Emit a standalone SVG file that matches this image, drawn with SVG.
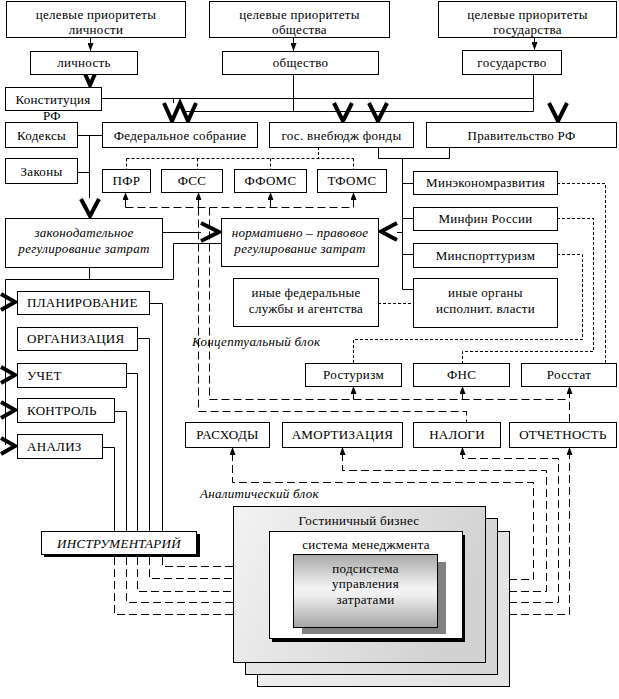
<svg xmlns="http://www.w3.org/2000/svg" width="619" height="699" viewBox="0 0 619 699">
<style>
.b{fill:#fff;stroke:#000;stroke-width:1}
.t{font-family:"Liberation Serif","Tinos","DejaVu Serif",serif;font-size:13px;letter-spacing:0.3px;fill:#000;text-anchor:middle}
.s{text-anchor:start}
.i{font-style:italic}
.ln{fill:none;stroke:#000;stroke-width:1}
.dl{stroke-dasharray:8 4}
.ds{stroke-dasharray:3 2}
.ch{fill:none;stroke:#000;stroke-width:4;stroke-linejoin:miter;stroke-linecap:butt}
</style>
<defs>
<marker id="ah" viewBox="0 0 8 6" refX="8" refY="3" markerWidth="8" markerHeight="6" markerUnits="userSpaceOnUse" orient="auto"><path d="M0,0 L8,3 L0,6 z" fill="#000"/></marker>
<linearGradient id="gF" x1="0" y1="0" x2="1" y2="0.3"><stop offset="0" stop-color="#f3f3f3"/><stop offset="1" stop-color="#d2d2d2"/></linearGradient>
<linearGradient id="gS" x1="0" y1="0" x2="1" y2="0"><stop offset="0" stop-color="#e6e6e6"/><stop offset="1" stop-color="#d4d4d4"/></linearGradient>
<linearGradient id="gT" x1="0" y1="0" x2="1" y2="0"><stop offset="0" stop-color="#eeeeee"/><stop offset="1" stop-color="#e2e2e2"/></linearGradient>
<linearGradient id="gP" x1="0" y1="0" x2="0" y2="1"><stop offset="0" stop-color="#a8a8a8"/><stop offset="0.45" stop-color="#f2f2f2"/><stop offset="0.55" stop-color="#f0f0f0"/><stop offset="1" stop-color="#a4a4a4"/></linearGradient>
</defs>
<rect width="619" height="699" fill="#fff"/>

<g id="connectors">
<g class="ln">
<path d="M90.5,37 V51" marker-end="url(#ah)"/>
<path d="M293.5,37 V51" marker-end="url(#ah)"/>
<path d="M534.5,37 V50" marker-end="url(#ah)"/>
<path d="M101,98.5 H533.5"/>
<path d="M293.5,74 V111.5 M533.5,74 V111.5 M186,111.5 H533.5"/>
<path d="M173.5,98.5 V103"/>
<path d="M77,135.5 H102 M89.5,135.5 V198 M77,172.5 H89.5"/>
<path d="M378.5,147 V158.5 H449.5 V147 M402.5,158.5 V289.5 M402.5,183.5 H413 M402.5,218.5 H413 M402.5,254.5 H413 M402.5,289.5 H413 M397,232.5 H402.5"/>
<path d="M162,232.5 H201"/>
<path d="M89.5,267 V279.5 M5.5,279.5 H173.5 V243.5 H221"/>
<path d="M5.5,279.5 V445"/>
<path d="M149,303.5 H162.5 V531 M137,338.5 H149.5 V531 M126,373.5 H137.5 V531 M114,411.5 H126.5 V531 M102,447.5 H114.5 V531"/>
</g>
<g class="ln ds">
<path d="M318.5,147 V158.5 M126.5,158.5 H353.5 M126.5,158.5 V169 M197.5,158.5 V169 M270.5,158.5 V169 M353.5,158.5 V169"/>
<path d="M557,183.5 H605.5 V363"/>
<path d="M557,218.5 H593.5 V351.5 H462.5 V363"/>
<path d="M557,254.5 H582.5 V339.5 H353.5 V363"/>
<path d="M378,303.5 H413"/>
</g>
<g class="ln dl">
<path d="M125.5,207.5 H353.5"/>
<path d="M125.5,207.5 V192" marker-end="url(#ah)"/>
<path d="M198.5,207.5 V192" marker-end="url(#ah)"/>
<path d="M270.5,207.5 V192" marker-end="url(#ah)"/>
<path d="M353.5,207.5 V192" marker-end="url(#ah)"/>
<path d="M198.5,207.5 V411.5 H466.5 V422"/>
<path d="M209.5,207.5 V399.5 H569.5"/>
<path d="M353.5,399.5 V386" marker-end="url(#ah)"/>
<path d="M462.5,399.5 V386" marker-end="url(#ah)"/>
<path d="M569.5,422 V386" marker-end="url(#ah)"/>
<path d="M509,579.5 H533.5 V482.5 H232.5 V447" marker-end="url(#ah)"/>
<path d="M509,591.5 H546.5 V470.5 H342.5 V447" marker-end="url(#ah)"/>
<path d="M509,602.5 H558.5 V458.5 H462.5 V447" marker-end="url(#ah)"/>
<path d="M509,614.5 H569.5 V447" marker-end="url(#ah)"/>
<path d="M162.5,557 V566.5 H233 M149.5,557 V578.5 H233 M137.5,557 V591.5 H233 M126.5,557 V602.5 H233 M114.5,557 V614.5 H233"/>
</g>
<g class="ch">
<path d="M82,67 L90,85 L98,67"/>
<path d="M164,103 L172,121 L180,103 L188,121 L196,103"/>
<path d="M334,103 L343,121 L352,103"/>
<path d="M369,103 L378,121 L387,103"/>
<path d="M549,103 L558,121 L567,103"/>
<path d="M81,199 L90,216 L99,199"/>
<path d="M201,223 L219,232 L201,241"/>
<path d="M397,223 L381,231.5 L397,240"/>
<path d="M1,294 L15,302 L1,310"/>
<path d="M1,367 L15,375 L1,383"/>
<path d="M1,402 L15,410 L1,418"/>
<path d="M1,438 L15,446 L1,454"/>
</g>
</g>

<g id="n-tp-lich"><rect class="b" x="6.5" y="1.5" width="179" height="36"/><text class="t" x="96" y="19">целевые приоритеты</text><text class="t" x="96" y="34">личности</text></g>
<g id="n-tp-obsh"><rect class="b" x="209.5" y="1.5" width="180" height="36"/><text class="t" x="299.5" y="19">целевые приоритеты</text><text class="t" x="299.5" y="34">общества</text></g>
<g id="n-tp-gos"><rect class="b" x="438.5" y="1.5" width="178" height="36"/><text class="t" x="527.5" y="19">целевые приоритеты</text><text class="t" x="527.5" y="34">государства</text></g>
<g id="n-lich"><rect class="b" x="30.5" y="51.5" width="107" height="23"/><text class="t" x="84" y="67">личность</text></g>
<g id="n-obsh"><rect class="b" x="222.5" y="51.5" width="156" height="23"/><text class="t" x="300.5" y="67">общество</text></g>
<g id="n-gos"><rect class="b" x="462.5" y="50.5" width="99" height="24"/><text class="t" x="512" y="67">государство</text></g>
<g id="n-konst"><rect class="b" x="5.5" y="87.5" width="96" height="23"/><text class="t" x="53" y="104">Конституция</text><text class="t" x="52" y="120">РФ</text></g>
<g id="n-kod"><rect class="b" x="5.5" y="122.5" width="72" height="25"/><text class="t" x="41.5" y="140">Кодексы</text></g>
<g id="n-zak"><rect class="b" x="5.5" y="158.5" width="72" height="25"/><text class="t" x="41.5" y="176">Законы</text></g>
<g id="n-fs"><rect class="b" x="102.5" y="122.5" width="155" height="25"/><text class="t" x="180" y="140">Федеральное собрание</text></g>
<g id="n-gvf"><rect class="b" x="269.5" y="122.5" width="144" height="25"/><text class="t" x="341.5" y="140">гос. внебюдж фонды</text></g>
<g id="n-prav"><rect class="b" x="426.5" y="122.5" width="190" height="25"/><text class="t" x="521.5" y="140">Правительство РФ</text></g>
<g id="n-pfr"><rect class="b" x="102.5" y="169.5" width="48" height="23"/><text class="t" x="126.5" y="185">ПФР</text></g>
<g id="n-fss"><rect class="b" x="161.5" y="169.5" width="61" height="23"/><text class="t" x="192" y="185">ФСС</text></g>
<g id="n-ffoms"><rect class="b" x="234.5" y="169.5" width="72" height="23"/><text class="t" x="270.5" y="185">ФФОМС</text></g>
<g id="n-tfoms"><rect class="b" x="317.5" y="169.5" width="69" height="23"/><text class="t" x="352" y="185">ТФОМС</text></g>
<g id="n-mer"><rect class="b" x="413.5" y="171.5" width="144" height="23"/><text class="t" x="485.5" y="187">Минэкономразвития</text></g>
<g id="n-mf"><rect class="b" x="413.5" y="207.5" width="144" height="23"/><text class="t" x="485.5" y="223">Минфин России</text></g>
<g id="n-mst"><rect class="b" x="413.5" y="243.5" width="144" height="24"/><text class="t" x="485.5" y="260">Минспорттуризм</text></g>
<g id="n-io"><rect class="b" x="413.5" y="278.5" width="144" height="49"/><text class="t" x="485.5" y="297">иные органы</text><text class="t" x="485.5" y="313">исполнит. власти</text></g>
<g id="n-zrz"><rect class="b" x="5.5" y="218.5" width="157" height="49"/><text class="t i" x="84" y="237">законодательное</text><text class="t i" x="84" y="253">регулирование затрат</text></g>
<g id="n-npr"><rect class="b" x="221.5" y="218.5" width="157" height="48"/><text class="t i" x="300" y="237">нормативно – правовое</text><text class="t i" x="300" y="253">регулирование затрат</text></g>
<g id="n-ifs"><rect class="b" x="233.5" y="278.5" width="145" height="48"/><text class="t" x="306" y="297">иные федеральные</text><text class="t" x="306" y="313">службы и агентства</text></g>
<text class="t i s" x="192" y="346">Концептуальный блок</text>
<g id="n-plan"><rect class="b" x="17.5" y="291.5" width="132" height="23"/><text class="t s" x="27" y="307">ПЛАНИРОВАНИЕ</text></g>
<g id="n-org"><rect class="b" x="17.5" y="327.5" width="120" height="23"/><text class="t s" x="27" y="343">ОРГАНИЗАЦИЯ</text></g>
<g id="n-uch"><rect class="b" x="17.5" y="363.5" width="109" height="24"/><text class="t s" x="27" y="380">УЧЕТ</text></g>
<g id="n-kontr"><rect class="b" x="17.5" y="398.5" width="97" height="24"/><text class="t s" x="27" y="415">КОНТРОЛЬ</text></g>
<g id="n-anal"><rect class="b" x="17.5" y="434.5" width="85" height="24"/><text class="t s" x="27" y="451">АНАЛИЗ</text></g>
<g id="n-rost"><rect class="b" x="305.5" y="363.5" width="96" height="23"/><text class="t" x="353.5" y="379">Ростуризм</text></g>
<g id="n-fns"><rect class="b" x="413.5" y="363.5" width="96" height="23"/><text class="t" x="461.5" y="379">ФНС</text></g>
<g id="n-rosstat"><rect class="b" x="521.5" y="363.5" width="95" height="23"/><text class="t" x="569" y="379">Росстат</text></g>
<g id="n-rash"><rect class="b" x="185.5" y="422.5" width="84" height="25"/><text class="t" x="227.5" y="439">РАСХОДЫ</text></g>
<g id="n-amort"><rect class="b" x="282.5" y="422.5" width="120" height="25"/><text class="t" x="342.5" y="439">АМОРТИЗАЦИЯ</text></g>
<g id="n-nal"><rect class="b" x="413.5" y="422.5" width="87" height="25"/><text class="t" x="457" y="439">НАЛОГИ</text></g>
<g id="n-otch"><rect class="b" x="509.5" y="422.5" width="107" height="25"/><text class="t" x="563" y="439">ОТЧЕТНОСТЬ</text></g>
<text class="t i s" x="200" y="498">Аналитический блок</text>
<g id="n-instr"><rect x="44" y="534" width="156" height="23" fill="#000"/><rect class="b" x="41.5" y="531.5" width="155" height="23"/><text class="t i" x="119" y="548">ИНСТРУМЕНТАРИЙ</text></g>
<g id="n-gb">
<rect x="257.5" y="531.5" width="252" height="155" fill="url(#gT)" stroke="#000"/>
<rect x="245.5" y="518.5" width="252" height="156" fill="url(#gS)" stroke="#000"/>
<rect x="233.5" y="506.5" width="252" height="156" fill="url(#gF)" stroke="#000"/>
<text class="t" x="359" y="525">Гостиничный бизнес</text>
</g>
<g id="n-sm">
<rect x="272" y="535" width="193" height="107" fill="#000"/>
<rect class="b" x="269.5" y="531.5" width="193" height="107"/>
<text class="t" x="366" y="549">система менеджмента</text>
</g>
<g id="n-psu">
<rect x="302" y="562" width="144" height="72" fill="#808080"/>
<rect x="293.5" y="554.5" width="144" height="73" fill="url(#gP)" stroke="#000"/>
<text class="t" x="365.5" y="573">подсистема</text>
<text class="t" x="365.5" y="588">управления</text>
<text class="t" x="365.5" y="604">затратами</text>
</g>
</svg>
